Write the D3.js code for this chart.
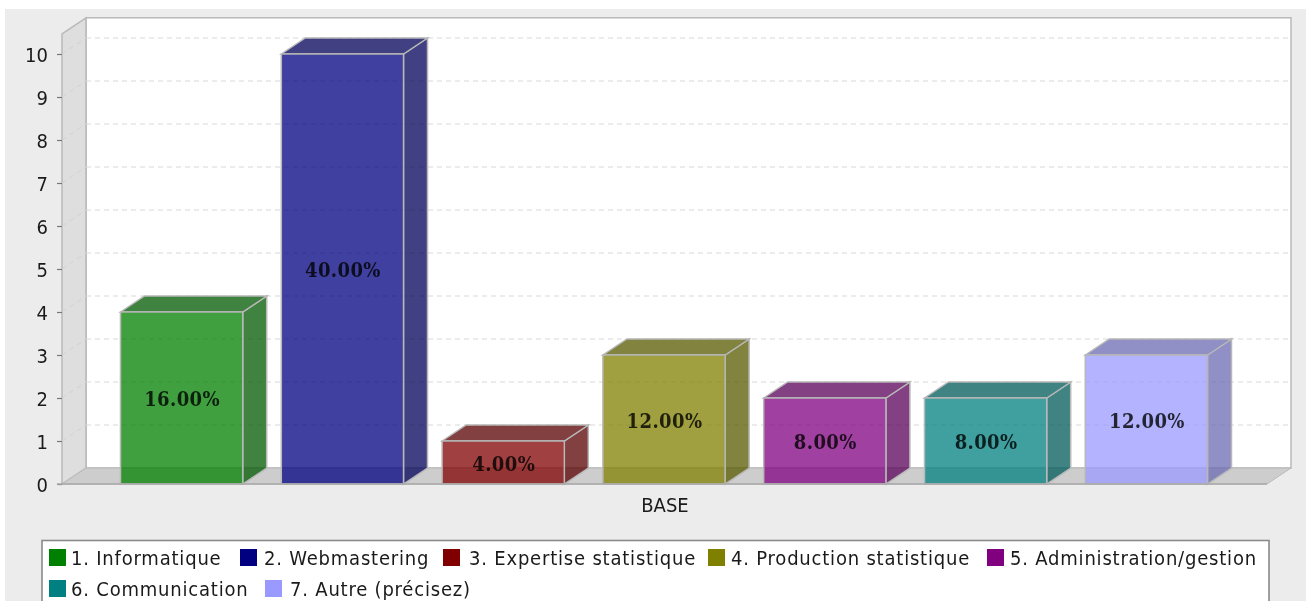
<!DOCTYPE html>
<html>
<head>
<meta charset="utf-8">
<script src="https://d3js.org/d3.v7.min.js"></script>
<style>
  html, body { margin: 0; padding: 0; background: #fff; overflow: hidden; }
  svg { display: block; filter: blur(0.45px); }
  text { font-family: "DejaVu Sans Condensed", "DejaVu Sans", sans-serif; font-stretch: condensed; fill: #1a1a1a; }
</style>
</head>
<body>
<div id="chart"></div>
<script>
const categories = ['1. Informatique', '2. Webmastering', '3. Expertise statistique', '4. Production statistique',
  '5. Administration/gestion', '6. Communication', '7. Autre (précisez)'];
const counts = [4, 10, 1, 3, 2, 2, 3];
const percentLabels = ['16.00%', '40.00%', '4.00%', '12.00%', '8.00%', '8.00%', '12.00%'];
const colors = ['#008000', '#000080', '#800000', '#808000', '#800080', '#008080', '#9999ff'];
const yTicks = [0, 1, 2, 3, 4, 5, 6, 7, 8, 9, 10];
const axisLabel = 'BASE';

const width = 1312;
const height = 601;
const depthX = 24;
const depthY = 16;
const plotLeft = 62;
const plotRight = 1267;
const plotBottom = 484;

const svg = d3.select('#chart').append('svg')
  .attr('width', width)
  .attr('height', height);

svg.append('rect')
  .attr('x', 5).attr('y', 9)
  .attr('width', 1301).attr('height', 592)
  .attr('fill', '#ececec');

const y = d3.scaleLinear().domain([0, 10]).range([plotBottom, 54]);
const x = d3.scaleBand().domain(categories).range([120.5, 1207.5]).paddingInner(0.24).paddingOuter(0);
const plotTop = y(10.47);

const pts = (a) => a.map((p) => p.join(',')).join(' ');
const wallStroke = '#b9b9b9';

// back wall
svg.append('rect')
  .attr('x', plotLeft + depthX).attr('y', plotTop - depthY)
  .attr('width', plotRight - plotLeft).attr('height', plotBottom - plotTop)
  .attr('fill', '#fff')
  .attr('stroke', wallStroke).attr('stroke-width', 1.5);

// left wall
svg.append('polygon')
  .attr('points', pts([[plotLeft, plotBottom], [plotLeft, plotTop], [plotLeft + depthX, plotTop - depthY], [plotLeft + depthX, plotBottom - depthY]]))
  .attr('fill', '#dedede')
  .attr('stroke', wallStroke).attr('stroke-width', 1.5);

// floor
svg.append('polygon')
  .attr('points', pts([[plotLeft, plotBottom], [plotLeft + depthX, plotBottom - depthY], [plotRight + depthX, plotBottom - depthY], [plotRight, plotBottom]]))
  .attr('fill', '#cdcdcd')
  .attr('stroke', wallStroke).attr('stroke-width', 1);

// gridlines, back wall then the diagonal on the left wall
const grid = svg.append('g');
grid.selectAll('.back').data(yTicks.slice(1)).enter().append('line')
  .attr('class', 'back')
  .attr('x1', plotLeft + depthX).attr('x2', plotRight + depthX)
  .attr('y1', (d) => y(d) - depthY).attr('y2', (d) => y(d) - depthY)
  .attr('stroke', '#d8d8d8').attr('stroke-width', 1).attr('stroke-dasharray', '5,4');
grid.selectAll('.side').data(yTicks.slice(1)).enter().append('line')
  .attr('class', 'side')
  .attr('x1', plotLeft).attr('x2', plotLeft + depthX)
  .attr('y1', (d) => y(d)).attr('y2', (d) => y(d) - depthY)
  .attr('stroke', '#d2d2d2').attr('stroke-width', 1).attr('stroke-dasharray', '5,4');

const rows = categories.map((name, i) => ({name, value: counts[i], label: percentLabels[i], color: colors[i]}));
const barStroke = '#b8b8b8';

const bar = svg.selectAll('.bar').data(rows).enter().append('g').attr('class', 'bar');

bar.append('polygon')
  .attr('points', (d) => {
    const x1 = x(d.name) + x.bandwidth();
    return pts([[x1, y(d.value)], [x1 + depthX, y(d.value) - depthY], [x1 + depthX, plotBottom - depthY], [x1, plotBottom]]);
  })
  .attr('fill', (d) => d3.color(d.color).darker(1))
  .attr('fill-opacity', 0.75)
  .attr('stroke', barStroke).attr('stroke-width', 1.5);

bar.append('polygon')
  .attr('points', (d) => {
    const x0 = x(d.name);
    const x1 = x0 + x.bandwidth();
    return pts([[x0, y(d.value)], [x0 + depthX, y(d.value) - depthY], [x1 + depthX, y(d.value) - depthY], [x1, y(d.value)]]);
  })
  .attr('fill', (d) => d3.color(d.color).darker(1))
  .attr('fill-opacity', 0.75)
  .attr('stroke', barStroke).attr('stroke-width', 1.5);

bar.append('rect')
  .attr('x', (d) => x(d.name))
  .attr('y', (d) => y(d.value))
  .attr('width', x.bandwidth())
  .attr('height', (d) => plotBottom - y(d.value))
  .attr('fill', (d) => d.color)
  .attr('fill-opacity', 0.75)
  .attr('stroke', barStroke).attr('stroke-width', 1.5);

bar.append('text')
  .attr('x', (d) => x(d.name) + x.bandwidth() / 2 + 0.5)
  .attr('y', (d) => (y(d.value) + plotBottom) / 2 + 8)
  .attr('text-anchor', 'middle')
  .style('font-family', '"DejaVu Serif Condensed", "DejaVu Serif", serif')
  .style('font-stretch', 'condensed')
  .style('font-weight', 'bold')
  .style('font-size', '20px')
  .style('letter-spacing', '0.4px')
  .style('fill', '#000')
  .style('fill-opacity', 0.8)
  .text((d) => d.label);

// value axis
const axis = svg.append('g')
  .attr('transform', `translate(${plotLeft},0)`)
  .call(d3.axisLeft(y).tickValues(yTicks).tickFormat(d3.format('d')).tickSize(5).tickPadding(9));
axis.select('.domain').remove();
axis.selectAll('line').attr('stroke', '#777').attr('stroke-width', 1.2);
axis.selectAll('text')
  .style('font-size', '20px')
  .style('font-family', '"DejaVu Sans Condensed", "DejaVu Sans", sans-serif')
  .style('fill', '#1a1a1a')
  .attr('dy', '0.36em');

svg.append('line')
  .attr('x1', plotLeft - 5).attr('x2', plotRight)
  .attr('y1', plotBottom).attr('y2', plotBottom)
  .attr('stroke', '#a8a8a8').attr('stroke-width', 1.3);

svg.append('text')
  .attr('x', 665).attr('y', 512)
  .attr('text-anchor', 'middle')
  .style('font-size', '20px')
  .text(axisLabel);

// legend, two rows, cut off by the bottom of the picture
const legend = svg.append('g');
legend.append('rect')
  .attr('x', 42).attr('y', 540.5)
  .attr('width', 1227).attr('height', 80)
  .attr('fill', '#fff')
  .attr('stroke', '#8a8a8a').attr('stroke-width', 1.6);

const legendX = [49, 240, 443, 708, 987, 49, 265];
const legendTextX = [71, 264, 469, 731, 1010, 71, 290];
const legendRow = [0, 0, 0, 0, 0, 1, 1];
const legendY = d3.scalePoint().domain([0, 1]).range([549, 580]);

const item = legend.selectAll('.item').data(rows).enter().append('g').attr('class', 'item');
item.append('rect')
  .attr('x', (d, i) => legendX[i])
  .attr('y', (d, i) => legendY(legendRow[i]))
  .attr('width', 17).attr('height', 17)
  .attr('fill', (d) => d.color);
item.append('text')
  .attr('x', (d, i) => legendTextX[i])
  .attr('y', (d, i) => legendY(legendRow[i]) + 16)
  .style('font-size', '20px')
  .style('letter-spacing', '0.8px')
  .text((d) => d.name);
</script>
</body>
</html>
